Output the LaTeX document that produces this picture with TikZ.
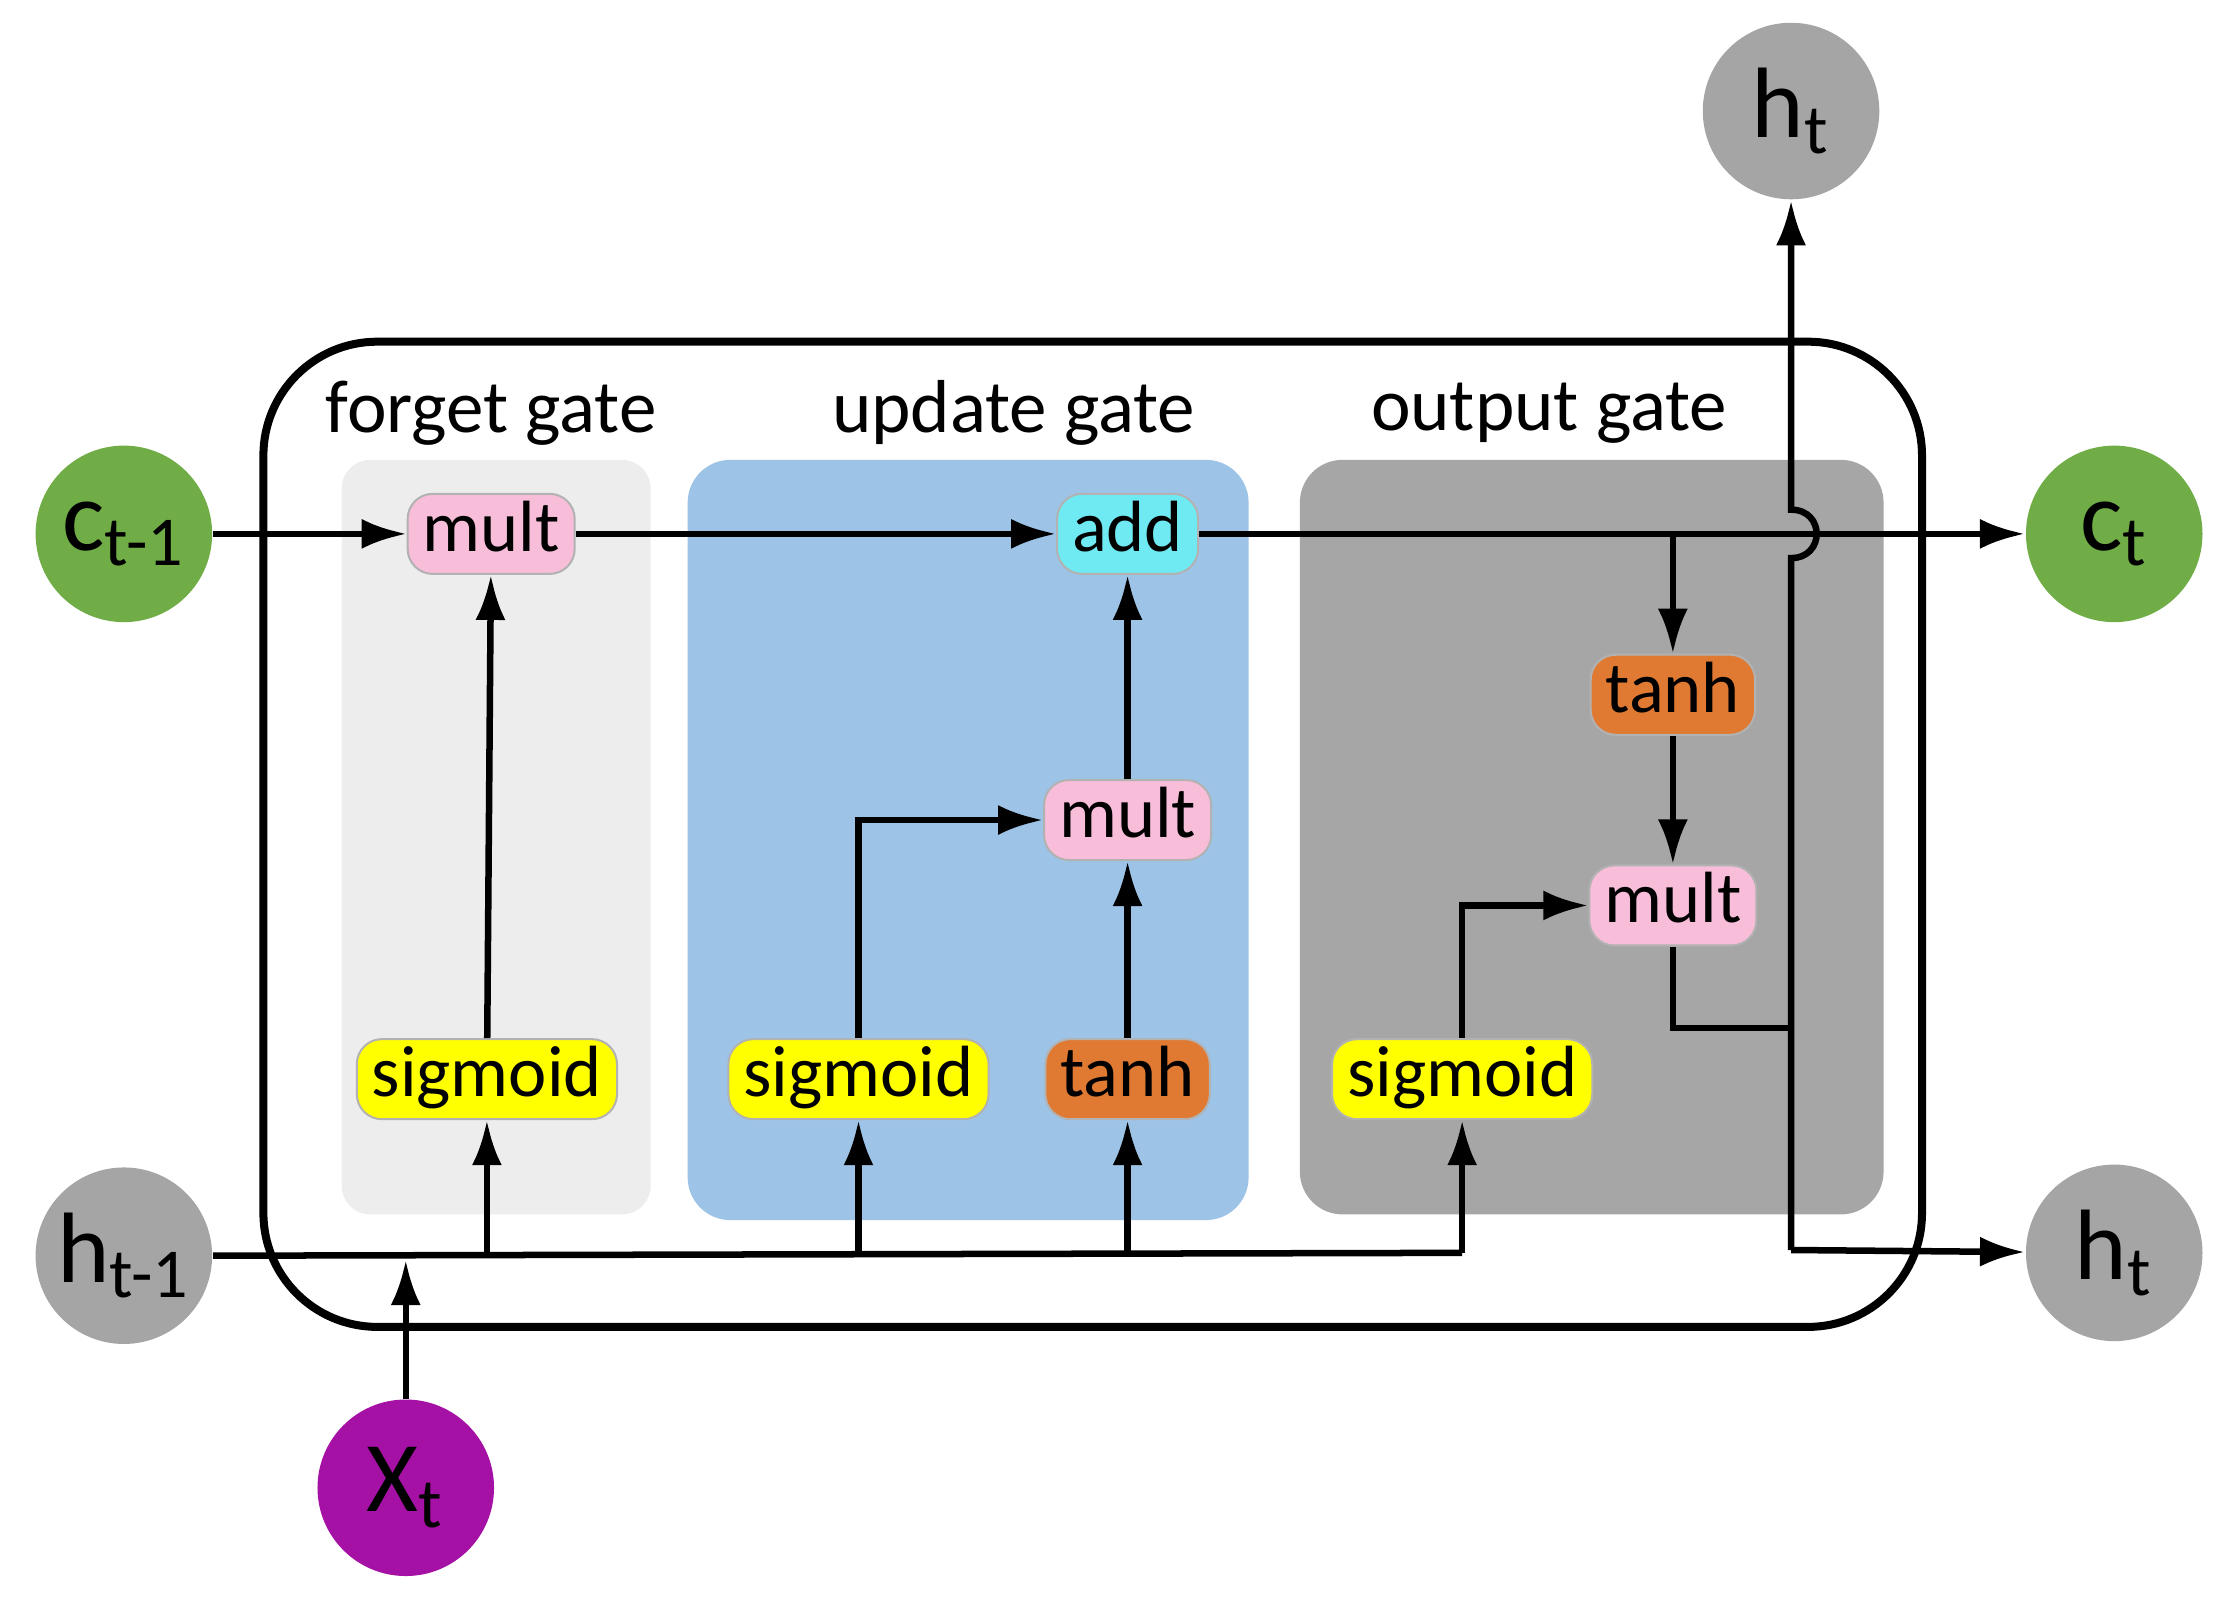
\documentclass[tikz,border=0pt]{standalone}
\usepackage{fontspec}
\setmainfont{Carlito}
\usetikzlibrary{arrows.meta}
\definecolor{gpink}{HTML}{F7BDD9}
\definecolor{gcyan}{HTML}{6FEAF2}
\definecolor{gorange}{HTML}{E07A32}
\definecolor{gyellow}{HTML}{FFFF00}
\definecolor{pblue}{HTML}{9DC3E6}
\definecolor{pgray}{HTML}{A6A6A6}
\definecolor{plight}{HTML}{EDEDED}
\definecolor{cgreen}{HTML}{70AD47}
\definecolor{cgray}{HTML}{A5A5A5}
\definecolor{cpurple}{HTML}{A510A5}
\begin{document}
\begin{tikzpicture}[x=0.1mm,y=-0.1mm,
  op/.style={draw=black!30,rounded corners=5pt,font=\fontsize{14.5}{17}\selectfont,inner xsep=3pt,inner ysep=1.5pt,text height=10pt,text depth=3pt},
  circ/.style={circle,minimum size=12.4mm,inner sep=0pt,font=\fontsize{20}{24}\selectfont},
  ttl/.style={font=\fontsize{15}{18}\selectfont},
  ar/.style={-{Latex[length=9pt,width=6pt]},line width=1.3pt},
  ln/.style={line width=1.3pt}]
\useasboundingbox (0,0) rectangle (1560,1126);
\fill[plight,rounded corners=2mm] (240,323) rectangle (457,853);
\fill[pblue,rounded corners=3mm] (483,323) rectangle (877,857);
\fill[pgray,rounded corners=3mm] (913,323) rectangle (1323,853);
\draw[line width=1.6pt,rounded corners=8mm] (185,240) rectangle (1350,932);
\node[ttl] at (345,290) {forget gate};
\node[ttl] at (712,290) {update gate};
\node[ttl] at (1088,290) {output gate};
\node[circ,fill=cgreen] (cp) at (87,375) {c\textsubscript{t-1}};
\node[circ,fill=cgreen] (ct) at (1485,375) {c\textsubscript{t}};
\node[circ,fill=cgray] (hp) at (87,882) {h\textsubscript{t-1}};
\node[circ,fill=cgray] (hb) at (1485,880) {h\textsubscript{t}};
\node[circ,fill=cgray] (ht) at (1258,78) {h\textsubscript{t}};
\node[circ,fill=cpurple] (xt) at (285,1045) {X\textsubscript{t}};
\node[op,fill=gpink] (m1) at (345,375) {mult};
\node[op,fill=gcyan] (add) at (792,375) {add};
\node[op,fill=gpink] (m2) at (792,576) {mult};
\node[op,fill=gorange] (t1) at (1175,488) {tanh};
\node[op,fill=gpink] (m3) at (1175,636) {mult};
\node[op,fill=gyellow] (s1) at (342,758) {sigmoid};
\node[op,fill=gyellow] (s2) at (603,758) {sigmoid};
\node[op,fill=gorange] (t2) at (792,758) {tanh};
\node[op,fill=gyellow] (s3) at (1027,758) {sigmoid};
\coordinate (b1) at (1175,375);
\coordinate (jx) at (1258,722);
\coordinate (jb) at (1258,878);
% cell line
\draw[ar] (cp) -- (m1);
\draw[ar] (m1) -- (add);
\draw[ar] (add) -- (ct);
\draw[ar] (b1) -- (t1);
\draw[ar] (t1) -- (m3);
\draw[ln] (m3) |- (jx);
% h output
\draw[ar] (jb) -- (1258,392) .. controls (1282,392) and (1282,358) .. (1258,358) -- (ht);
\draw[ar] (jb) -- (hb);
% h_{t-1} line
\draw[ln] (hp.east) -- (1027,880);
\draw[ar] (1027,880) -- (s3);
\draw[ar] (342,880) -- (s1);
\draw[ar] (603,880) -- (s2);
\draw[ar] (792,880) -- (t2);
\draw[ar] (xt) -- (285,885);
% gates
\draw[ar] (s1) -- (m1);
\draw[ar] (s2) |- (m2);
\draw[ar] (t2) -- (m2);
\draw[ar] (m2) -- (add);
\draw[ar] (s3) |- (m3);
\end{tikzpicture}
\end{document}
